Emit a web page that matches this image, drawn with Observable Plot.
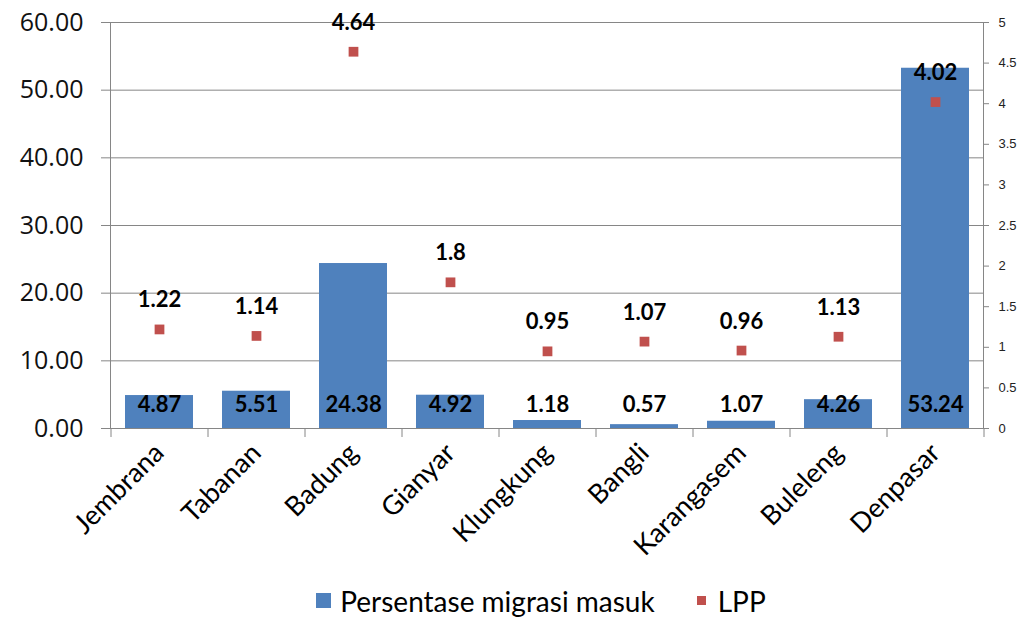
<!DOCTYPE html>
<html>
<head>
<meta charset="utf-8">
<script src="https://cdn.jsdelivr.net/npm/d3@7"></script>
<script src="https://cdn.jsdelivr.net/npm/@observablehq/plot@0.6"></script>
<style>
  body { margin: 0; background: #fff; }
  #chart { width: 1030px; }
  .legend { display: flex; justify-content: center; align-items: center; height: 41px; font-family: Lato, sans-serif; font-size: 28px; color: #000; padding-left: 52px; }
  .legend .item { display: flex; align-items: center; }
  .sw { display: inline-block; margin-right: 9px; }
</style>
</head>
<body>
<div id="chart"></div>
<script>
const categories = ["Jembrana", "Tabanan", "Badung", "Gianyar", "Klungkung", "Bangli", "Karangasem", "Buleleng", "Denpasar"];
const migrasi = [4.87, 5.51, 24.38, 4.92, 1.18, 0.57, 1.07, 4.26, 53.24];
const lpp = [1.22, 1.14, 4.64, 1.8, 0.95, 1.07, 0.96, 1.13, 4.02];
const leftTicks = [0, 10, 20, 30, 40, 50, 60];
const rightTicks = [0, 0.5, 1, 1.5, 2, 2.5, 3, 3.5, 4, 4.5, 5];

const ratio = 60 / 5; // right axis max 5 maps to left axis max 60
const rows = categories.map((c, i) => ({cat: c, m: migrasi[i], lpp: lpp[i], lppS: lpp[i] * ratio}));

const W = 1030, H = 580, mL = 110, mR = 47;
const step = (W - mL - mR) / categories.length;
const blue = "#4F81BD", red = "#C0504D", gray = "#868686";

const chart = Plot.plot({
  width: W, height: H,
  marginLeft: mL, marginRight: mR, marginTop: 22, marginBottom: 152,
  style: {fontFamily: "Lato, sans-serif", background: "#fff"},
  x: {domain: categories, paddingInner: 0.3, paddingOuter: 0.15, label: null},
  y: {domain: [0, 60], label: null},
  marks: [
    Plot.gridY(leftTicks.filter(d => d > 0), {stroke: gray, strokeOpacity: 1}),
    Plot.barY(rows, {x: "cat", y: "m", fill: blue}),
    Plot.ruleY([0], {stroke: gray}),
    Plot.frame({anchor: "left", stroke: gray}),
    Plot.frame({anchor: "right", stroke: gray}),
    // left axis
    Plot.axisY({ticks: leftTicks, tickFormat: d3.format(".2f"), tickSize: 9, tickPadding: 18, stroke: gray,
      fontSize: 25, fontFamily: "Open Sans", fill: "#111", label: null}),
    // right axis (LPP)
    Plot.axisY({anchor: "right", ticks: rightTicks.map(d => d * ratio), tickFormat: d => String(+(d / ratio).toFixed(1)),
      tickSize: 5, tickPadding: 10, stroke: gray, fontSize: 13, fontFamily: "Liberation Sans", fill: "#222", label: null}),
    // x axis labels
    Plot.axisX({ticks: categories, tickSize: 0, tickRotate: -45, tickPadding: 20, fontSize: 27, fontFamily: "Lato",
      fill: "#000", label: null}),
    // x tick marks at band boundaries
    Plot.axisX({ticks: categories, tickSize: 9, tickFormat: null, dx: -step / 2, stroke: gray, label: null}),
    Plot.axisX({ticks: categories.slice(-1), tickSize: 9, tickFormat: null, dx: step / 2, stroke: gray, label: null}),
    // bar labels (inside base)
    Plot.text(rows, {x: "cat", y: 0, text: d => d.m.toFixed(2), dy: -24, fontSize: 22, fontWeight: "bold", fill: "#000"}),
    // LPP points
    Plot.dot(rows, {x: "cat", y: "lppS", symbol: "square", r: 5.5, fill: red, stroke: "none"}),
    Plot.text(rows, {x: "cat", y: "lppS", text: d => String(d.lpp), dy: -29, fontSize: 22, fontWeight: "bold", fill: "#000"})
  ]
});
document.getElementById("chart").appendChild(chart);

const legend = document.createElement("div");
legend.className = "legend";
legend.innerHTML = `<span class="item"><span class="sw" style="width:15px;height:15px;background:${blue}"></span>Persentase migrasi masuk</span>` +
  `<span class="item" style="margin-left:42px"><span class="sw" style="width:9px;height:9px;background:${red};margin-right:12px"></span>LPP</span>`;
document.getElementById("chart").appendChild(legend);
</script>
</body>
</html>
